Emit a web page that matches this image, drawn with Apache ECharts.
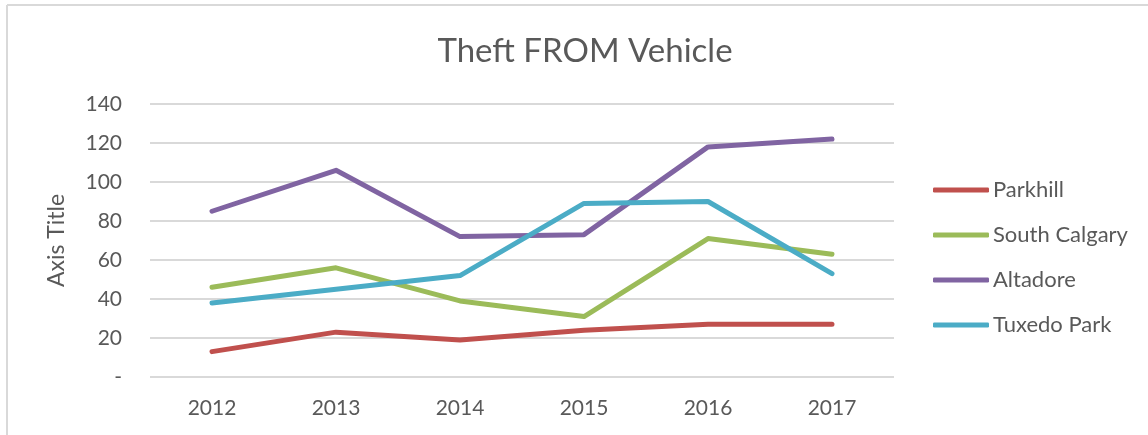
<!DOCTYPE html>
<html>
<head>
<meta charset="utf-8">
<script src="https://cdn.jsdelivr.net/npm/echarts@6/dist/echarts.min.js"></script>
<style>
html,body{margin:0;padding:0;background:#fff;}
#chartmain{width:1148px;height:435px;}
</style>
</head>
<body>
<div id="chartmain"></div>
<script>
// 数据
var years = ['2012', '2013', '2014', '2015', '2016', '2017'];
var seriesNames = ['Parkhill', 'South Calgary', 'Altadore', 'Tuxedo Park'];
var parkhill = [13, 23, 19, 24, 27, 27];
var southCalgary = [46, 56, 39, 31, 71, 63];
var altadore = [85, 106, 72, 73, 118, 122];
var tuxedoPark = [38, 45, 52, 89, 90, 53];
var colors = ['#c0504d', '#9bbb59', '#8064a2', '#4bacc6'];

var textColor = '#595959';
var font = 'Lato';

var myChart = echarts.init(document.getElementById('chartmain'));

function makeLine(name, data, color){
	return {
		name: name,
		type: 'line',
		data: data,
		symbol: 'none',
		smooth: false,
		color: color,
		lineStyle: {width: 5, color: color, cap: 'round', join: 'round'}
	};
}

var option = {
	backgroundColor: '#fff',
	animation: false,
	title: {
		text: 'Theft FROM Vehicle',
		left: 580,
		textAlign: 'center',
		top: 30,
		textStyle: {color: textColor, fontFamily: font, fontSize: 33, fontWeight: 'normal'}
	},
	legend: {
		orient: 'vertical',
		left: 933,
		top: 179,
		padding: 0,
		icon: 'roundRect',
		itemWidth: 56,
		itemHeight: 5,
		itemGap: 23,
		data: seriesNames,
		textStyle: {color: textColor, fontFamily: font, fontSize: 22, padding: [0, 0, 0, -1]}
	},
	grid: {left: 150, right: 254, top: 104, bottom: 58},
	xAxis: {
		type: 'category',
		data: years,
		boundaryGap: true,
		axisLine: {show: false},
		axisTick: {show: false},
		axisLabel: {color: textColor, fontFamily: font, fontSize: 21, margin: 21}
	},
	yAxis: {
		type: 'value',
		min: 0,
		max: 140,
		interval: 20,
		name: 'Axis Title',
		nameLocation: 'middle',
		nameGap: 82,
		nameTextStyle: {color: textColor, fontFamily: font, fontSize: 23},
		axisLine: {show: false},
		axisTick: {show: false},
		splitLine: {lineStyle: {color: '#d9d9d9', width: 2}},
		axisLabel: {
			color: textColor, fontFamily: font, fontSize: 21, margin: 28,
			formatter: function(v){ return v === 0 ? '-' : v; }
		}
	},
	graphic: [
		{type: 'line', shape: {x1: 7, y1: 5, x2: 1148, y2: 5}, style: {stroke: '#d9d9d9', lineWidth: 2}},
		{type: 'line', shape: {x1: 7, y1: 5, x2: 7, y2: 435}, style: {stroke: '#d9d9d9', lineWidth: 2}}
	],
	series: [
		makeLine(seriesNames[0], parkhill, colors[0]),
		makeLine(seriesNames[1], southCalgary, colors[1]),
		makeLine(seriesNames[2], altadore, colors[2]),
		makeLine(seriesNames[3], tuxedoPark, colors[3])
	]
};

myChart.setOption(option);
</script>
</body>
</html>
